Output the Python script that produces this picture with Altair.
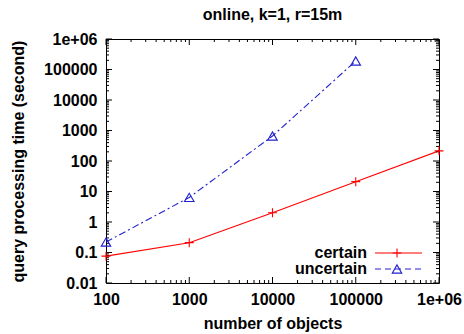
import altair as alt
import pandas as pd

# ---- data ----
certain_objects = [100, 1000, 10000, 100000, 1000000]
certain_time = [0.076, 0.21, 2.0, 21, 215]
uncertain_objects = [100, 1000, 10000, 100000]
uncertain_time = [0.22, 6.4, 660, 190000]

y_ticks = [0.01, 0.1, 1, 10, 100, 1000, 10000, 100000, 1000000]
y_tick_labels = ["0.01", "0.1", "1", "10", "100", "1000", "10000", "100000", "1e+06"]
x_ticks = [100, 1000, 10000, 100000, 1000000]
x_tick_labels = ["100", "1000", "10000", "100000", "1e+06"]

title_text = "online, k=1, r=15m"
x_title = "number of objects"
y_title = "query processing time (second)"

W, H = 333, 244
FONT = "Liberation Sans"
RED = "#ff0000"
BLUE = "#2020d0"
DASH = [7, 3, 2, 3]


def label_expr(vals, labs):
    parts = [f"datum.value == {v} ? '{l}'" for v, l in zip(vals, labs)]
    return " : ".join(parts) + " : ''"


def minors(majors):
    out = []
    for m in majors[:-1]:
        for k in range(2, 10):
            out.append(m * k)
    return out


xscale = alt.Scale(type="log", domain=[100, 1000000], nice=False)
yscale = alt.Scale(type="log", domain=[0.01, 1000000], nice=False)

df_c = pd.DataFrame({"n": certain_objects, "t": certain_time})
df_u = pd.DataFrame({"n": uncertain_objects, "t": uncertain_time})

axis_style = dict(domain=False, ticks=False, grid=False,
                  labelFont=FONT, labelFontSize=16, labelFontWeight="bold", labelColor="black",
                  titleFont=FONT, titleFontSize=16, titleFontWeight="bold", titleColor="black",
                  labelFlush=False, labelOverlap=False)

x_axis = alt.Axis(values=x_ticks, labelExpr=label_expr(x_ticks, x_tick_labels),
                  title=x_title, titleX=W / 2, titleY=40, titleBaseline="middle",
                  titleAlign="center", labelPadding=8, **axis_style)
y_axis = alt.Axis(values=y_ticks, labelExpr=label_expr(y_ticks, y_tick_labels),
                  title=y_title, titleX=-88, titleY=H / 2, titleAngle=-90,
                  titleAlign="center", titleBaseline="middle",
                  labelPadding=9, **axis_style)

plus_shape = "M-1,0L1,0M0,-1L0,1"

certain_line = alt.Chart(df_c).mark_line(color=RED, strokeWidth=1.1, clip=True).encode(
    x=alt.X("n:Q", scale=xscale, axis=x_axis),
    y=alt.Y("t:Q", scale=yscale, axis=y_axis),
)
certain_pts = alt.Chart(df_c).mark_point(shape=plus_shape, filled=False, color=RED,
                                         size=81, strokeWidth=1.1, opacity=1).encode(
    x=alt.X("n:Q", scale=xscale), y=alt.Y("t:Q", scale=yscale))
unc_line = alt.Chart(df_u).mark_line(color=BLUE, strokeWidth=1.1, strokeDash=DASH, clip=True).encode(
    x=alt.X("n:Q", scale=xscale), y=alt.Y("t:Q", scale=yscale))
unc_pts = alt.Chart(df_u).mark_point(shape="triangle-up", filled=False, color=BLUE,
                                      size=90, strokeWidth=1.1, opacity=1).encode(
    x=alt.X("n:Q", scale=xscale), y=alt.Y("t:Q", scale=yscale))

# inside ticks (gnuplot style) on all four sides
df_yM = pd.DataFrame({"v": y_ticks})
df_ym = pd.DataFrame({"v": minors(y_ticks)})
df_xM = pd.DataFrame({"v": x_ticks})
df_xm = pd.DataFrame({"v": minors(x_ticks)})

tick_layers = []
for df, ln in [(df_yM, 6), (df_ym, 3)]:
    tick_layers.append(alt.Chart(df).mark_rule(color="black", strokeWidth=1).encode(
        y=alt.Y("v:Q", scale=yscale), x=alt.value(0), x2=alt.value(ln)))
    tick_layers.append(alt.Chart(df).mark_rule(color="black", strokeWidth=1).encode(
        y=alt.Y("v:Q", scale=yscale), x=alt.value(W), x2=alt.value(W - ln)))
for df, ln in [(df_xM, 6), (df_xm, 3)]:
    tick_layers.append(alt.Chart(df).mark_rule(color="black", strokeWidth=1).encode(
        x=alt.X("v:Q", scale=xscale), y=alt.value(H), y2=alt.value(H - ln)))
    tick_layers.append(alt.Chart(df).mark_rule(color="black", strokeWidth=1).encode(
        x=alt.X("v:Q", scale=xscale), y=alt.value(0), y2=alt.value(ln)))

# legend (inside, bottom right, label left of sample)
legend_layers = []
for lab, yy, col, dash, shape, sz in [
    ("certain", 214, RED, [1, 0], plus_shape, 81),
    ("uncertain", 230, BLUE, [6, 4], "triangle-up", 90),
]:
    d = pd.DataFrame({"label": [lab]})
    legend_layers.append(alt.Chart(d).mark_text(align="right", baseline="middle", font=FONT,
                                                fontWeight="bold", fontSize=16, color="black").encode(
        text="label:N", x=alt.value(261), y=alt.value(yy)))
    legend_layers.append(alt.Chart(d).mark_rule(color=col, strokeWidth=1.1, strokeDash=dash).encode(
        x=alt.value(269), x2=alt.value(316), y=alt.value(yy)))
    legend_layers.append(alt.Chart(d).mark_point(shape=shape, filled=False, color=col, size=sz,
                                                 strokeWidth=1.1, opacity=1).encode(
        x=alt.value(291), y=alt.value(yy)))

# chart title drawn as a text mark above the frame
title_layer = alt.Chart(pd.DataFrame({"t": [title_text]})).mark_text(
    align="center", baseline="middle", font=FONT, fontWeight="bold", fontSize=16,
    color="black").encode(text="t:N", x=alt.value(W / 2), y=alt.value(-24))

chart = alt.layer(
    certain_line, *tick_layers, unc_line, certain_pts, unc_pts, *legend_layers, title_layer
).properties(
    width=W, height=H,
    autosize="none",
    padding={"left": 106, "top": 39, "right": 25, "bottom": 51},
    background="white",
).configure_view(
    stroke="black", strokeWidth=1
)

chart.save("out.html", embed_options={"renderer": "svg", "actions": False})
